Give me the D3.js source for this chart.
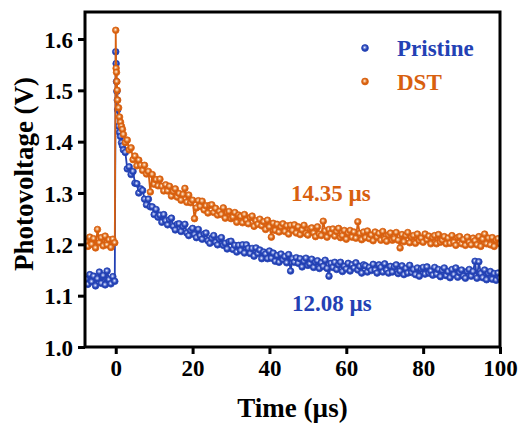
<!DOCTYPE html>
<html>
<head>
<meta charset="utf-8">
<script src="https://cdn.jsdelivr.net/npm/d3@7"></script>
<style>
html,body{margin:0;padding:0;background:#fff;}
svg{display:block;}
text{font-family:"Liberation Serif","Times New Roman",serif;font-weight:bold;}
</style>
</head>
<body>
<script>
// ---- data ----
const seriesNames = ["Pristine", "DST"];
const annotations = ["12.08 µs", "14.35 µs"];
const xTicks = [0, 20, 40, 60, 80, 100];
const yTicks = [1.0, 1.1, 1.2, 1.3, 1.4, 1.5, 1.6];

const time = [
-7.75,-7.25,-6.75,-6.25,-5.75,-5.25,-4.75,-4.25,-3.75,-3.25,-2.75,-2.25,-1.75,-1.25,-0.75,-0.25,
0,0.1,0.2,0.3,0.4,0.5,0.75,1.0,1.25,1.5,1.75,2.0,
2.5,3,3.5,4,4.5,5,5.5,6,6.5,7,
7.5,8,8.5,9,9.5,10,10.5,11,11.5,12,
12.5,13,13.5,14,14.5,15,15.5,16,16.5,17,
17.5,18,18.5,19,19.5,20,20.5,21,21.5,22,
22.5,23,23.5,24,24.5,25,25.5,26,26.5,27,
27.5,28,28.5,29,29.5,30,30.5,31,31.5,32,
32.5,33,33.5,34,34.5,35,35.5,36,36.5,37,
37.5,38,38.5,39,39.5,40,40.5,41,41.5,42,
42.5,43,43.5,44,44.5,45,45.5,46,46.5,47,
47.5,48,48.5,49,49.5,50,50.5,51,51.5,52,
52.5,53,53.5,54,54.5,55,55.5,56,56.5,57,
57.5,58,58.5,59,59.5,60,60.5,61,61.5,62,
62.5,63,63.5,64,64.5,65,65.5,66,66.5,67,
67.5,68,68.5,69,69.5,70,70.5,71,71.5,72,
72.5,73,73.5,74,74.5,75,75.5,76,76.5,77,
77.5,78,78.5,79,79.5,80,80.5,81,81.5,82,
82.5,83,83.5,84,84.5,85,85.5,86,86.5,87,
87.5,88,88.5,89,89.5,90,90.5,91,91.5,92,
92.5,93,93.5,94,94.5,95,95.5,96,96.5,97,
97.5,98,98.5,99,99.5,100
];

const pristine = [
1.132,1.122,1.141,1.127,1.138,1.119,1.133,1.146,1.124,1.139,1.121,1.148,1.131,1.123,1.137,1.128,
1.575,1.552,1.517,1.498,1.481,1.462,1.430,1.418,1.410,1.398,1.392,1.384,
1.379,1.347,1.351,1.336,1.342,1.319,1.318,1.300,1.308,1.305,
1.288,1.277,1.288,1.273,1.273,1.258,1.268,1.253,1.257,1.243,
1.258,1.246,1.238,1.248,1.251,1.235,1.228,1.239,1.240,1.225,
1.235,1.239,1.222,1.217,1.227,1.231,1.219,1.213,1.229,1.217,
1.210,1.220,1.222,1.207,1.202,1.212,1.217,1.204,1.199,1.210,
1.213,1.198,1.202,1.191,1.205,1.206,1.190,1.198,1.185,1.198,
1.188,1.199,1.183,1.199,1.192,1.182,1.192,1.177,1.193,1.182,
1.189,1.172,1.185,1.181,1.172,1.187,1.173,1.183,1.167,1.178,
1.165,1.181,1.170,1.176,1.164,1.180,1.148,1.172,1.165,1.174,
1.163,1.172,1.156,1.167,1.173,1.159,1.162,1.171,1.155,1.165,
1.168,1.153,1.164,1.157,1.169,1.153,1.138,1.163,1.155,1.165,
1.151,1.160,1.165,1.147,1.157,1.152,1.163,1.148,1.160,1.154,
1.164,1.150,1.157,1.144,1.160,1.158,1.146,1.155,1.149,1.161,
1.150,1.144,1.160,1.155,1.146,1.162,1.150,1.144,1.157,1.146,
1.156,1.160,1.143,1.148,1.158,1.141,1.153,1.144,1.159,1.145,
1.151,1.141,1.154,1.138,1.152,1.155,1.142,1.156,1.144,1.148,
1.140,1.155,1.142,1.151,1.137,1.149,1.154,1.139,1.147,1.135,
1.151,1.141,1.154,1.136,1.145,1.150,1.138,1.134,1.147,1.151,
1.138,1.147,1.167,1.134,1.166,1.143,1.135,1.150,1.131,1.143,
1.147,1.132,1.143,1.130,1.144,1.134
];

const dst = [
1.205,1.196,1.214,1.200,1.211,1.193,1.229,1.203,1.213,1.197,1.216,1.199,1.209,1.194,1.210,1.203,
1.617,1.543,1.535,1.517,1.500,1.481,1.466,1.448,1.438,1.430,1.424,1.414,
1.398,1.403,1.384,1.388,1.365,1.372,1.353,1.364,1.354,1.344,
1.354,1.337,1.342,1.302,1.336,1.317,1.326,1.314,1.327,1.313,
1.304,1.316,1.304,1.313,1.294,1.303,1.308,1.292,1.299,1.286,
1.297,1.309,1.282,1.296,1.281,1.286,1.250,1.271,1.285,1.274,
1.284,1.267,1.275,1.261,1.276,1.277,1.262,1.270,1.257,1.264,
1.258,1.271,1.251,1.262,1.264,1.250,1.253,1.262,1.243,1.257,
1.254,1.242,1.258,1.247,1.240,1.252,1.255,1.235,1.246,1.239,
1.249,1.236,1.244,1.229,1.247,1.234,1.214,1.241,1.227,1.239,
1.224,1.234,1.240,1.225,1.236,1.220,1.237,1.227,1.238,1.222,
1.234,1.219,1.228,1.237,1.221,1.218,1.230,1.232,1.222,1.215,
1.234,1.220,1.217,1.245,1.226,1.214,1.229,1.221,1.230,1.216,
1.225,1.231,1.213,1.217,1.227,1.210,1.222,1.227,1.214,1.224,
1.212,1.244,1.221,1.209,1.224,1.213,1.226,1.211,1.218,1.207,
1.224,1.214,1.221,1.208,1.225,1.210,1.206,1.218,1.222,1.208,
1.211,1.223,1.208,1.193,1.219,1.205,1.217,1.223,1.203,1.214,
1.217,1.202,1.220,1.207,1.212,1.204,1.220,1.209,1.216,1.201,
1.213,1.217,1.201,1.219,1.204,1.208,1.215,1.201,1.212,1.202,
1.217,1.204,1.198,1.213,1.215,1.201,1.209,1.198,1.214,1.204,
1.199,1.212,1.207,1.199,1.215,1.196,1.210,1.220,1.201,1.212,
1.199,1.213,1.196,1.208,1.211,1.201
];

const colors = ["#2341b4", "#d8600f"];
const lightColors = ["#8da0e6", "#f3b47e"];

// ---- layout ----
const W = 521, H = 428;
const svg = d3.select("body").append("svg").attr("width", W).attr("height", H);

const x = d3.scaleLinear().domain([-8, 100]).range([85, 500]);
const y = d3.scaleLinear().domain([1.0, 1.6526]).range([347, 12]);

const defs = svg.append("defs");
defs.append("clipPath").attr("id", "plotclip").append("rect")
  .attr("x", x(-8)).attr("y", y(1.6526)).attr("width", x(100) - x(-8)).attr("height", y(1.0) - y(1.6526));
colors.forEach((c, i) => {
  const g = defs.append("radialGradient").attr("id", "grad" + i)
    .attr("cx", "45%").attr("cy", "42%").attr("r", "55%");
  g.append("stop").attr("offset", "0%").attr("stop-color", "#ffffff");
  g.append("stop").attr("offset", "25%").attr("stop-color", lightColors[i]);
  g.append("stop").attr("offset", "65%").attr("stop-color", c);
  g.append("stop").attr("offset", "100%").attr("stop-color", c);
});

const allSeries = [pristine, dst];
const plot = svg.append("g").attr("clip-path", "url(#plotclip)");
const line = d3.line().x(d => x(d[0])).y(d => y(d[1]));

allSeries.forEach((vals, i) => {
  const pts = time.map((t, j) => [t, vals[j]]);
  const g = plot.append("g");
  g.append("path").datum(pts).attr("d", line)
    .attr("fill", "none").attr("stroke", colors[i]).attr("stroke-width", 1.8);
  g.selectAll("circle").data(pts).join("circle")
    .attr("cx", d => x(d[0])).attr("cy", d => y(d[1])).attr("r", 3.3)
    .attr("fill", "url(#grad" + i + ")").attr("stroke", colors[i]).attr("stroke-width", 0.8);
});

// ---- axes ----
const xAxis = d3.axisBottom(x).tickValues(xTicks).tickSize(7).tickSizeOuter(0).tickPadding(6);
const yAxis = d3.axisLeft(y).tickValues(yTicks).tickSize(7).tickSizeOuter(0).tickPadding(5)
  .tickFormat(d3.format(".1f"));

const gx = svg.append("g").attr("transform", `translate(0,${y(1.0)})`).call(xAxis);
const gy = svg.append("g").attr("transform", `translate(${x(-8)},0)`).call(yAxis);
[gx, gy].forEach(g => {
  g.select(".domain").remove();
  g.selectAll(".tick line").attr("stroke", "#000").attr("stroke-width", 3);
  g.selectAll(".tick text").attr("fill", "#000").style("font-size", "23px")
    .style("font-family", "'Liberation Serif','Times New Roman',serif").style("font-weight", "bold");
});
gy.selectAll(".tick text").attr("dy", "0.36em");

// frame
svg.append("rect").attr("x", x(-8)).attr("y", y(1.6526))
  .attr("width", x(100) - x(-8)).attr("height", y(1.0) - y(1.6526))
  .attr("fill", "none").attr("stroke", "#000").attr("stroke-width", 3);

// axis titles
svg.append("text").attr("x", (x(-8) + x(100)) / 2).attr("y", 417)
  .attr("text-anchor", "middle").style("font-size", "27px").text("Time (µs)");
svg.append("text").attr("transform", "translate(33,174) rotate(-90)")
  .attr("text-anchor", "middle").style("font-size", "27px").text("Photovoltage (V)");

// legend
const legY = [48, 81.5];
seriesNames.forEach((n, i) => {
  svg.append("circle").attr("cx", 365).attr("cy", legY[i]).attr("r", 3.4)
    .attr("fill", "url(#grad" + i + ")").attr("stroke", colors[i]).attr("stroke-width", 0.8);
  svg.append("text").attr("x", 397).attr("y", legY[i] + 8)
    .attr("fill", colors[i]).style("font-size", "23px").text(n);
});

// annotations
svg.append("text").attr("x", 292).attr("y", 311).attr("fill", colors[0])
  .style("font-size", "23px").text(annotations[0]);
svg.append("text").attr("x", 291).attr("y", 201).attr("fill", colors[1])
  .style("font-size", "23px").text(annotations[1]);
</script>
</body>
</html>
